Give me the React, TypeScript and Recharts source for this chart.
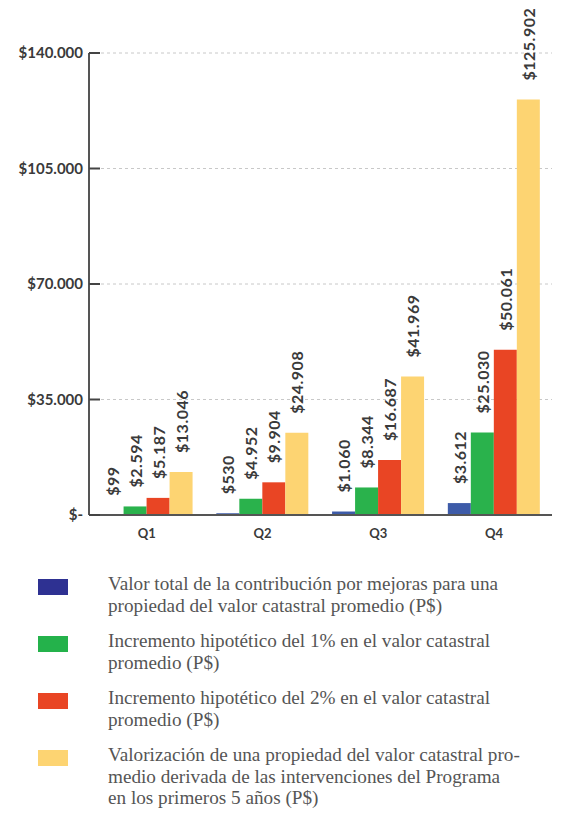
import React from "react";
import { BarChart, Bar, XAxis, YAxis, CartesianGrid, LabelList } from "recharts";

const categories = ["Q1", "Q2", "Q3", "Q4"];
const contribucion = [99, 530, 1060, 3612];
const incremento1 = [2594, 4952, 8344, 25030];
const incremento2 = [5187, 9904, 16687, 50061];
const valorizacion = [13046, 24908, 41969, 125902];
const yTicks = [0, 35000, 70000, 105000, 140000];

const legendItems = [
  { color: "#2E3192", lines: ["Valor total de la contribución por mejoras para una", "propiedad del valor catastral promedio (P$)"] },
  { color: "#24B24B", lines: ["Incremento hipotético del 1% en el valor catastral", "promedio (P$)"] },
  { color: "#E94524", lines: ["Incremento hipotético del 2% en el valor catastral", "promedio (P$)"] },
  { color: "#FDD472", lines: ["Valorización de una propiedad del valor catastral pro-", "medio derivada de las intervenciones del Programa", "en los primeros 5 años (P$)"] },
];

const data = categories.map((c, i) => ({
  name: c,
  a: contribucion[i],
  b: incremento1[i],
  c: incremento2[i],
  d: valorizacion[i],
}));

const fmt = (v: number) => (v === 0 ? "$-" : "$" + v.toString().replace(/\B(?=(\d{3})+(?!\d))/g, "."));

const SANS = "Lato, 'Noto Sans', sans-serif";

const VLabel = (props: any) => {
  const { x, y, width, value } = props;
  const cx = x + width / 2;
  const cy = y - 19;
  return (
    <text
      x={cx}
      y={cy}
      transform={`rotate(-90, ${cx}, ${cy})`}
      textAnchor="start"
      dominantBaseline="central"
      fontFamily={SANS}
      fontWeight={700}
      fontSize={16}
      letterSpacing={0.5}
      fill="#3a3a3a"
    >
      {fmt(value)}
    </text>
  );
};

export default function App() {
  return (
    <div style={{ position: "absolute", left: 0, top: 0, width: 564, height: 814, background: "#fff" }}>
      <BarChart
        width={564}
        height={550}
        data={data}
        margin={{ top: 53, right: 12, bottom: 0, left: 0 }}
        barCategoryGap="10%"
        barGap={0}
      >
        <CartesianGrid vertical={false} stroke="#c8c8c8" strokeDasharray="3 3" />
        <XAxis
          dataKey="name"
          height={35}
          tickLine={false}
          axisLine={{ stroke: "#555", strokeWidth: 2 }}
          tick={{ fill: "#3a3a3a", fontFamily: SANS, fontWeight: 700, fontSize: 13 }}
          tickMargin={8}
        />
        <YAxis
          width={89}
          domain={[0, 140000]}
          ticks={yTicks}
          interval={0}
          tickFormatter={fmt}
          axisLine={{ stroke: "#555", strokeWidth: 2 }}
          tickLine={{ stroke: "#444", strokeWidth: 2 }}
          tickSize={-11}
          tickMargin={17}
          tick={{ fill: "#3a3a3a", fontFamily: SANS, fontWeight: 700, fontSize: 15 }}
        />
        <Bar dataKey="a" fill="#3D5BA8" isAnimationActive={false}>
          <LabelList dataKey="a" content={VLabel} />
        </Bar>
        <Bar dataKey="b" fill="#2AB24C" isAnimationActive={false}>
          <LabelList dataKey="b" content={VLabel} />
        </Bar>
        <Bar dataKey="c" fill="#E94524" isAnimationActive={false}>
          <LabelList dataKey="c" content={VLabel} />
        </Bar>
        <Bar dataKey="d" fill="#FDD472" isAnimationActive={false}>
          <LabelList dataKey="d" content={VLabel} />
        </Bar>
      </BarChart>
      <div style={{ position: "absolute", left: 0, top: 573, width: 564 }}>
        {legendItems.map((it, i) => (
          <div key={i} style={{ position: "relative", height: it.lines.length * 21.5 + 14 }}>
            <div style={{ position: "absolute", left: 38, top: 6, width: 30, height: 16, background: it.color }} />
            <div
              style={{
                position: "absolute",
                left: 108,
                top: 0,
                fontFamily: "'Liberation Serif', 'DejaVu Serif', serif",
                fontSize: 19.2,
                lineHeight: "21.5px",
                color: "#555",
                whiteSpace: "nowrap",
              }}
            >
              {it.lines.map((l, j) => (
                <div key={j}>{l}</div>
              ))}
            </div>
          </div>
        ))}
      </div>
    </div>
  );
}
